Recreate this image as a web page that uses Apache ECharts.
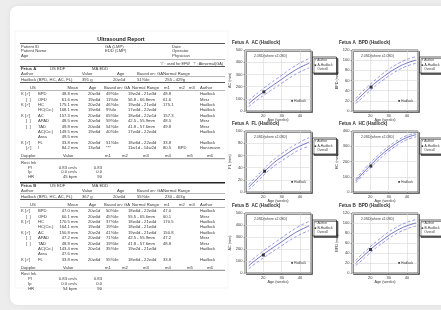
<!DOCTYPE html>
<html><head><meta charset="utf-8">
<script src="https://cdn.jsdelivr.net/npm/echarts@6/dist/echarts.min.js"></script>
<style>html,body{margin:0;padding:0;background:#ededed;}#c{width:441px;height:310px;}</style>
</head><body><div id="c"></div>
<script>
// ---- growth chart data (gestational age in weeks, measurement in mm) ----
const weeks = [12,15,18,21,24,27,30,33,36,39,42,45];
const acA_upper = [84,124,161,196,229,261,293,326,357,385,409,430];
const acA_mid   = [60,98,133,166,198,229,260,292,322,349,372,392];
const acA_lower = [36,72,105,136,167,197,227,258,287,313,335,354];
const acA_point = [[20.3,157]];
const bpdA_upper = [25,36,46,56,65,74,82,89,95,100,104,107];
const bpdA_mid   = [20,30,40,50,59,67,75,82,88,93,97,100];
const bpdA_lower = [15,24,34,44,53,61,69,76,82,87,91,94];
const bpdA_point = [[20.4,47]];
const flA_upper = [12,22,31,40,49,56,63,69,75,80,85,89];
const flA_mid   = [8,17,26,35,43,51,57,63,69,74,78,82];
const flA_lower = [4,12,21,30,38,45,51,57,63,68,72,75];
const flA_point = [[20.7,34]];
const hcA_upper = [84,126,166,204,238,270,299,325,347,365,378,388];
const hcA_mid   = [72,112,150,187,222,254,283,310,333,352,366,376];
const hcA_lower = [60,98,134,170,205,238,267,294,318,338,352,362];
const hcA_point = [[20.3,170]];
const acB_upper = [84,124,161,196,229,261,293,326,357,385,409,430];
const acB_mid   = [60,98,133,166,198,229,260,292,322,349,372,392];
const acB_lower = [36,72,105,136,167,197,227,258,287,313,335,354];
const acB_point = [[20.0,150]];
const bpdB_upper = [25,36,46,56,65,74,82,89,95,100,104,107];
const bpdB_mid   = [20,30,40,50,59,67,75,82,88,93,97,100];
const bpdB_lower = [15,24,34,44,53,61,69,76,82,87,91,94];
const bpdB_point = [[20.1,47]];
const xTicks = {min:10, max:46, interval:10};

// ---- report text ----
const tableHeader = ['US','Mean','Age','Based on: GA','Normal Range','m1','m2','m3','Author'];
const fetusA_rows = [
 ['K [\u2713] BPD','48.8 mm','20w3d','49%ile','19w2d - 21w3d','48.8','','','Hadlock'],
 ['[  ] OFD','61.6 mm','19w6d','11%ile','56.8 - 66.8mm','61.6','','','Merz'],
 ['K [\u2713] HC','175.1 mm','20w2d','46%ile','19w4d - 21w0d','175.1','','','Hadlock'],
 ['HC(Ce.)','168.1 mm','19w6d','9%ile','17w4d - 22w4d','','','','Hadlock'],
 ['K [\u2713] AC','157.3 mm','20w6d','65%ile','18w6d - 22w1d','157.3','','','Hadlock'],
 ['[  ] APAD','48.5 mm','20w5d','59%ile','42.5 - 55.9mm','48.5','','','Merz'],
 ['[  ] TAD','49.8 mm','20w4d','54%ile','41.8 - 57.6mm','49.8','','','Merz'],
 ['AC(Ce.)','149.5 mm','19w6d','40%ile','17w4d - 22w4d','','','','Hadlock'],
 ['Area','49.5 mm','','','','','','',''],
 ['K [\u2713] FL','33.8 mm','20w5d','51%ile','18w6d - 22w4d','33.8','','','Hadlock'],
 ['[\u2713] CI','84.2 mm','13w5d','***','11w1d - 14w2d','80.5','BPD','','Hansmann']
];
const fetusB_rows = [
 ['K [\u2713] BPD','47.0 mm','20w1d','50%ile','18w6d - 22w0d','47.0','','','Hadlock'],
 ['[  ] OFD','60.1 mm','20w0d','45%ile','55.5 - 65.6mm','60.1','','','Merz'],
 ['K [\u2713] HC','170.5 mm','20w0d','37%ile','18w4d - 21w4d','170.5','','','Hadlock'],
 ['HC(Ce.)','164.1 mm','19w4d','19%ile','18w0d - 21w0d','','','','Hadlock'],
 ['K [\u2713] AC','150.8 mm','20w2d','41%ile','19w4d - 21w6d','150.8','','','Hadlock'],
 ['[  ] APAD','47.2 mm','20w0d','71%ile','42.5 - 55.9mm','47.2','','','Merz'],
 ['[  ] TAD','48.8 mm','20w0d','19%ile','41.8 - 57.6mm','48.8','','','Merz'],
 ['AC(Ce.)','143.4 mm','20w1d','35%ile','19w2d - 21w3d','','','','Hadlock'],
 ['Area','47.6 mm','','','','','','',''],
 ['K [\u2713] FL','33.8 mm','20w6d','55%ile','18w6d - 22w4d','33.8','','','Hadlock']
];
const dopplerHeader = ['Doppler','Value','m1','m2','m3','m4','m5','m6'];
const restA = [['PI','0.83 cm/s','0.83'],['Ip','0.0 cm/s','0.0'],['HR','45 bpm','90']];
const restB = [['PI','0.83 cm/s','0.83'],['Ip','0.0 cm/s','0.0'],['HR','54 bpm','90']];

const chart = echarts.init(document.getElementById('c'), null, {renderer:'canvas'});
const FONT = 'Liberation Sans';
const TC = '#3a3a3a';
const g = [];
function T(x,y,text,o){o=o||{};g.push({type:'text',x:x,y:y,silent:true,z:o.z||10,style:{text:text,fill:o.c||TC,font:(o.w||'normal')+' '+(o.s||4.2)+'px "'+FONT+'"',fontStyle:o.i?'italic':'normal',textAlign:o.a||'left',textVerticalAlign:'middle'}});}
function L(y,w,c,x1,x2){g.push({type:'line',silent:true,z:9,shape:{x1:x1||20,y1:y,x2:x2||225,y2:y},style:{stroke:c||'#666',lineWidth:w||0.6}});}

// card + report page (kept behind the grids)
g.push({type:'rect',z:-20,silent:true,shape:{x:10,y:6,width:460,height:299,r:8},style:{fill:'#fff',shadowBlur:6,shadowColor:'rgba(0,0,0,0.06)'}});
g.push({type:'rect',z:-19,silent:true,shape:{x:15,y:31,width:213,height:257},style:{fill:'#fff',stroke:'#efefef',lineWidth:0.6}});

T(121,39.5,'Ultrasound Report',{a:'center',s:5.4,w:'bold',i:true,c:'#222'});
L(43.5,1.2,'#555');
T(21,46.5,'Patient ID');T(21,51.3,'Patient Name');T(21,56,'Age');
T(105,46.5,'GA (LMP)');T(105,51.3,'EDD (LMP)');
T(172,46.5,'Date');T(172,51.3,'Operator');T(172,56,'Physician');
L(59.5,0.6,'#888');
T(223,63.5,"'#' : used for EFW   '!' : Abnormal(GA)",{a:'right',s:3.8});
L(66.5,1.2,'#555');

const colX = [21,78,88,106,128,163,178,189,200];
const hdrX = [30,78,89,104,132,164,179,189,200];
function section(y0,name,rows,rest,tw){
  T(21,y0,name,{w:'bold'});T(50,y0,'US EDF');T(92,y0,'MA EDD');
  T(21,y0+5,'Author');T(82,y0+5,'Value');T(117,y0+5,'Age');T(137,y0+5,'Based on: GA');T(163,y0+5,'Normal Range');
  L(y0+7.5,0.6,'#888');
  T(21,y0+10.8,'Hadlock (BPD, HC, AC, FL)');T(82,y0+10.8,tw[0]);T(113,y0+10.8,tw[1]);T(137,y0+10.8,tw[2]);T(165,y0+10.8,tw[3]);
  L(y0+13.5,1,'#555');
  const hy=y0+19;
  tableHeader.forEach((h,i)=>T(hdrX[i],hy,h,{a:i===1?'right':'left'}));
  L(hy+2.5,0.6,'#888');
  rows.forEach((r,k)=>{
    const y=hy+6+k*5.4;
    let name=r[0];
    if(name.indexOf('K ')===0){T(21,y,'K [\u2713]');T(38,y,name.slice(6));}
    else if(name[0]==='['){T(26,y,name.slice(0,4));T(38,y,name.slice(5).trim());}
    else T(38,y,name);
    for(let i=1;i<r.length;i++) if(r[i]) T(colX[i],y,r[i],{a:i===1?'right':'left'});
  });
  const dy=hy+6+rows.length*5.4+2.5;
  const dx=[21,63,105,122,143,165,187,207];
  dopplerHeader.forEach((h,i)=>T(dx[i],dy,h));
  L(dy+2.8,0.8,'#666');
  T(21,dy+6.8,'Rest Ink');
  rest.forEach((r,k)=>{const y=dy+11.5+k*4.7;T(28,y,r[0]);T(77,y,r[1],{a:'right'});T(102,y,r[2],{a:'right'});});
}
section(69,'Fetus A',fetusA_rows,restA,['391 g','20w1d','51%ile','255 - 429g']);
L(182.8,1.6,'#222');
section(186,'Fetus B',fetusB_rows,restB,['367 g','20w0d','55%ile','230 - 403g']);

// ---- growth charts ----
const panels = [
 {title:'Fetus A  AC (Hadlock)', left:245, top:50, h:61, up:acA_upper, mid:acA_mid, lo:acA_lower, pt:acA_point, max:500, iv:100, yname:'AC (mm)', leg:['\u00d7 Author','\u25a0 A-Hadlock','   Overall']},
 {title:'Fetus A  BPD (Hadlock)', left:352, top:50, h:61, up:bpdA_upper, mid:bpdA_mid, lo:bpdA_lower, pt:bpdA_point, max:120, iv:20, yname:'BPD (mm)', leg:['\u00d7 Author','\u25a0 A-Hadlock','   Overall']},
 {title:'Fetus A  FL (Hadlock)', left:245, top:131, h:61, up:flA_upper, mid:flA_mid, lo:flA_lower, pt:flA_point, max:100, iv:20, yname:'FL (mm)', leg:['\u00d7 Author','\u25a0 A-Hadlock','   Overall']},
 {title:'Fetus A  HC (Hadlock)', left:352, top:131, h:61, up:hcA_upper, mid:hcA_mid, lo:hcA_lower, pt:hcA_point, max:400, iv:100, yname:'HC (mm)', leg:['\u00d7 Author','\u25a0 A-Hadlock','   Overall']},
 {title:'Fetus B  AC (Hadlock)', left:245, top:213, h:60, up:acB_upper, mid:acB_mid, lo:acB_lower, pt:acB_point, max:500, iv:100, yname:'AC (mm)', leg:['\u25a1 Author','\u25a0 B-Hadlock','   Overall']},
 {title:'Fetus B  BPD (Hadlock)', left:352, top:213, h:60, up:bpdB_upper, mid:bpdB_mid, lo:bpdB_lower, pt:bpdB_point, max:120, iv:20, yname:'BPD (mm)', leg:['\u25a1 Author','\u25a0 B-Hadlock','   Overall']}
];
const W = 66;
const grids=[], xAxes=[], yAxes=[], series=[];
const zip = (a)=>weeks.map((w,i)=>[w,a[i]]);
panels.forEach((p,i)=>{
  grids.push({left:p.left, top:p.top, width:W, height:p.h, show:true, z:1, borderColor:'#444', borderWidth:0.8, backgroundColor:'#fff', shadowColor:'rgba(0,0,0,0.55)', shadowOffsetX:1.5, shadowOffsetY:1.5, shadowBlur:0});
  xAxes.push({type:'value', gridIndex:i, z:2, min:xTicks.min, max:xTicks.max, interval:xTicks.interval, name:'Age (weeks)', nameLocation:'middle', nameGap:7, nameTextStyle:{fontSize:3.8,color:TC,fontFamily:FONT},
    axisLine:{show:false}, axisTick:{show:true,length:1.5,lineStyle:{color:'#555',width:0.5}},
    axisLabel:{fontSize:4,color:TC,margin:2.5,fontFamily:FONT,showMinLabel:false,showMaxLabel:false},
    splitLine:{show:true,lineStyle:{color:'#d6d6d6',width:0.6}}});
  yAxes.push({type:'value', gridIndex:i, z:2, min:0, max:p.max, interval:p.iv, name:p.yname, nameLocation:'middle', nameRotate:90, nameGap:10, nameTextStyle:{fontSize:3.8,color:TC,fontFamily:FONT},
    axisLine:{show:false}, axisTick:{show:true,length:1.5,lineStyle:{color:'#555',width:0.5}},
    axisLabel:{fontSize:4,color:TC,margin:2.5,fontFamily:FONT},
    splitLine:{show:true,lineStyle:{color:'#d6d6d6',width:0.6}}});
  const ls=(c,t)=>({color:c,width:0.8,type:t});
  series.push({type:'line',xAxisIndex:i,yAxisIndex:i,z:3,data:zip(p.up),smooth:true,symbol:'none',lineStyle:ls('#7b7bdc',[3,2]),silent:true});
  series.push({type:'line',xAxisIndex:i,yAxisIndex:i,z:3,data:zip(p.mid),smooth:true,symbol:'none',lineStyle:ls('#4c4cb6','solid'),silent:true});
  series.push({type:'line',xAxisIndex:i,yAxisIndex:i,z:3,data:zip(p.lo),smooth:true,symbol:'none',lineStyle:ls('#7b7bdc',[3,2]),silent:true});
  series.push({type:'scatter',xAxisIndex:i,yAxisIndex:i,data:p.pt,symbol:'rect',symbolSize:3,itemStyle:{color:'#111'},z:5,silent:true});
  T(p.left-13, p.top-7, p.title, {s:4.6, w:'bold', c:'#333'});
  T(p.left+9, p.top+6.5, '2.0SD(where \u00b12.0SD)', {s:3.4});
  T(p.left+46, p.top+p.h-10, '\u25a0 Hadlock', {s:3.4});
  const bx=p.left+W+1.5, by=p.top+7;
  g.push({type:'rect',z:8,silent:true,shape:{x:bx,y:by,width:24,height:16},style:{fill:'#fff',stroke:'#222',lineWidth:0.7,shadowColor:'rgba(0,0,0,0.6)',shadowOffsetX:1.5,shadowOffsetY:1.5}});
  p.leg.forEach((s,k)=>T(bx+2,by+3.5+k*4.4,s,{s:3.3}));
});

chart.setOption({
  animation:false,
  backgroundColor:'transparent',
  grid:grids, xAxis:xAxes, yAxis:yAxes, series:series,
  graphic:{elements:g}
});
</script></body></html>
